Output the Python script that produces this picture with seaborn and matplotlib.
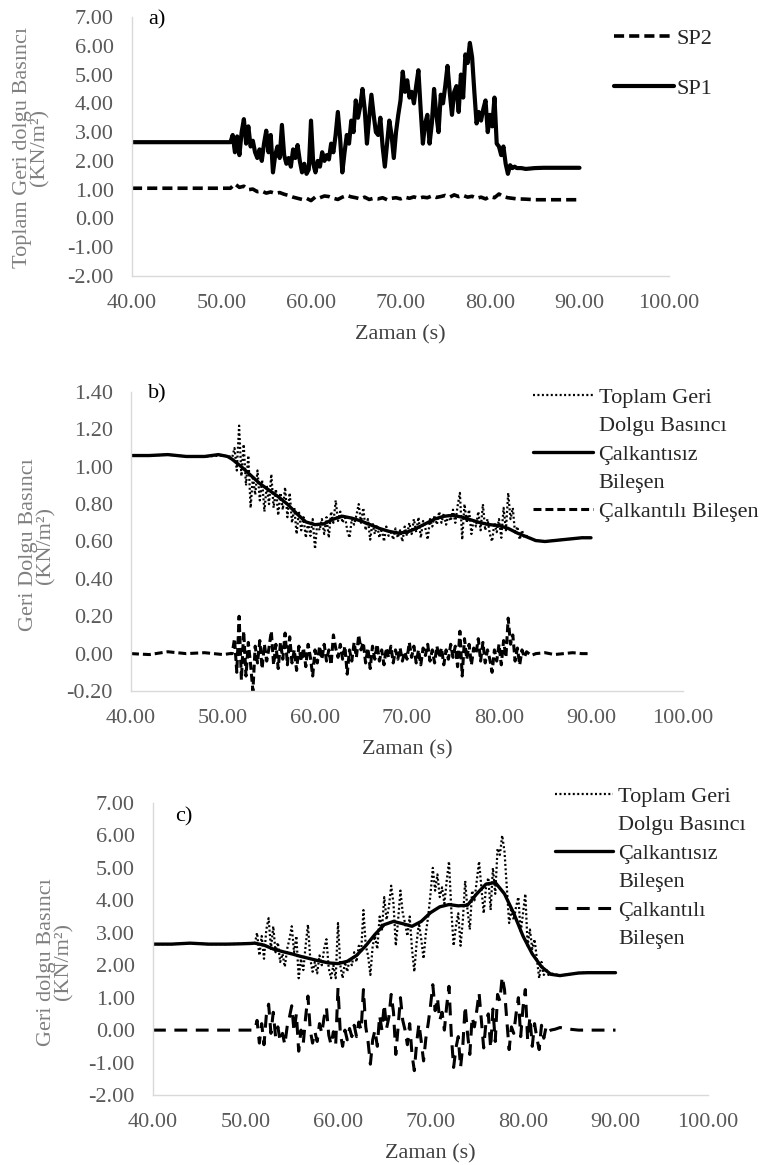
import matplotlib
matplotlib.use("Agg")
import matplotlib.pyplot as plt
import seaborn as sns
import pandas as pd
from matplotlib.lines import Line2D
from matplotlib.ticker import FormatStrFormatter

# ---------------- DATA ----------------
X_TICKS = [40, 50, 60, 70, 80, 90, 100]
Y_TICKS_AC = [-2, -1, 0, 1, 2, 3, 4, 5, 6, 7]
Y_TICKS_B = [-0.2, 0.0, 0.2, 0.4, 0.6, 0.8, 1.0, 1.2, 1.4]

# time stamps (s)
T_PRE = [40.0, 42.0, 44.0, 46.0, 48.0, 50.0, 50.75]
T_MID = [51.0, 51.25, 51.5, 51.75, 52.0, 52.25, 52.5, 52.75,
         53.0, 53.25, 53.5, 53.75, 54.0, 54.25, 54.5, 54.75,
         55.0, 55.25, 55.5, 55.75, 56.0, 56.25, 56.5, 56.75,
         57.0, 57.25, 57.5, 57.75, 58.0, 58.25, 58.5, 58.75,
         59.0, 59.25, 59.5, 59.75, 60.0, 60.25, 60.5, 60.75,
         61.0, 61.25, 61.5, 61.75, 62.0, 62.25, 62.5, 62.75,
         63.0, 63.25, 63.5, 63.75, 64.0, 64.25, 64.5, 64.75,
         65.0, 65.25, 65.5, 65.75, 66.0, 66.25, 66.5, 66.75,
         67.0, 67.25, 67.5, 67.75, 68.0, 68.25, 68.5, 68.75,
         69.0, 69.25, 69.5, 69.75, 70.0, 70.25, 70.5, 70.75,
         71.0, 71.25, 71.5, 71.75, 72.0, 72.25, 72.5, 72.75,
         73.0, 73.25, 73.5, 73.75, 74.0, 74.25, 74.5, 74.75,
         75.0, 75.25, 75.5, 75.75, 76.0, 76.25, 76.5, 76.75,
         77.0, 77.25, 77.5, 77.75, 78.0, 78.25, 78.5, 78.75,
         79.0, 79.25, 79.5, 79.75, 80.0, 80.25, 80.5, 80.75,
         81.0, 81.25, 81.5, 81.75, 82.0, 82.25, 82.5, 82.75,
         83.0]
T_POST = [83.5, 84.0, 85.0, 86.0, 87.0, 88.0, 89.0, 90.0]

T_SP2 = [40.0, 45.0, 50.0, 50.75,
         51.0, 51.5, 52.0, 52.5, 53.0, 53.5, 54.0, 54.5,
         55.0, 55.5, 56.0, 56.5, 57.0, 57.5, 58.0, 58.5,
         59.0, 59.5, 60.0, 60.5, 61.0, 61.5, 62.0, 62.5,
         63.0, 63.5, 64.0, 64.5, 65.0, 65.5, 66.0, 66.5,
         67.0, 67.5, 68.0, 68.5, 69.0, 69.5, 70.0, 70.5,
         71.0, 71.5, 72.0, 72.5, 73.0, 73.5, 74.0, 74.5,
         75.0, 75.5, 76.0, 76.5, 77.0, 77.5, 78.0, 78.5,
         79.0, 79.5, 80.0, 80.5, 81.0, 81.5, 82.0, 82.5,
         83.0, 84.0, 85.0, 86.0, 88.0, 90.0]

T_SMOOTH = [40, 42, 44, 46, 48, 49.5, 50.5, 51, 52, 53, 54, 55, 56, 57, 58, 59,
            60, 61, 62, 63, 64, 65, 66, 67, 68, 69, 70, 71, 72, 73, 74, 75,
            76, 77, 78, 79, 80, 81, 82, 83, 84, 85, 86, 87, 88, 89, 90]

# ---- panel a) ----
SP1 = ([2.65, 2.65, 2.65, 2.65, 2.65, 2.65, 2.65] +
       [2.65, 2.9, 2.3, 2.85, 2.2, 3.0, 3.45, 2.6,
        3.2, 2.5, 2.7, 2.3, 2.1, 2.4, 2.0, 2.6,
        3.05, 2.3, 2.9, 1.6, 2.2, 2.5, 2.1, 3.25,
        2.2, 1.9, 2.1, 1.8, 2.4, 2.1, 2.55, 2.0,
        1.6, 1.9, 1.55, 1.7, 3.4, 1.9, 1.6, 2.0,
        1.8, 2.3, 2.0, 2.2, 2.05, 2.6, 2.3, 2.9,
        3.7, 2.8, 1.6, 2.3, 2.9, 2.6, 3.4, 3.0,
        4.1, 3.5, 3.9, 4.5, 3.8, 2.6, 3.5, 4.3,
        3.6, 3.0, 2.9, 3.5, 2.5, 1.8, 2.6, 3.4,
        2.9, 2.1, 3.0, 3.6, 4.1, 5.1, 4.4, 4.8,
        4.2, 4.4, 4.0, 4.6, 5.15, 3.8, 2.6, 3.3,
        3.6, 2.6, 3.3, 4.5, 3.6, 3.0, 4.3, 4.0,
        4.6, 5.3, 4.4, 3.6, 4.4, 4.6, 3.7, 5.0,
        4.2, 5.7, 5.4, 6.1, 5.6, 4.4, 3.3, 3.7,
        3.4, 3.8, 4.1, 3.0, 3.6, 3.2, 4.2, 2.6,
        2.5, 2.2, 2.5, 1.9, 1.55, 1.85, 1.75, 1.8,
        1.75] +
       [1.75, 1.72, 1.75, 1.76, 1.76, 1.76, 1.76, 1.76])

SP2 = [1.05, 1.05, 1.05, 1.05,
       1.05, 1.2, 1.08, 1.12, 1.0, 1.02, 0.93, 0.95,
       0.88, 0.92, 0.87, 0.9, 0.84, 0.8, 0.74, 0.7,
       0.66, 0.7, 0.62, 0.75, 0.72, 0.78, 0.76, 0.7,
       0.66, 0.74, 0.8, 0.75, 0.72, 0.68, 0.74, 0.66,
       0.7, 0.68, 0.72, 0.65, 0.7, 0.72, 0.68, 0.74,
       0.7, 0.75, 0.7, 0.74, 0.72, 0.78, 0.73, 0.76,
       0.8, 0.74, 0.82, 0.76, 0.8, 0.74, 0.77, 0.7,
       0.74, 0.68, 0.76, 0.72, 0.85, 0.76, 0.72, 0.7,
       0.68, 0.67, 0.65, 0.65, 0.65, 0.65]

# ---- panel b) ----
B_SMOOTH = [1.06, 1.06, 1.065, 1.055, 1.055, 1.065, 1.055, 1.04, 1.0, 0.955, 0.91,
            0.875, 0.84, 0.8, 0.75, 0.705, 0.69, 0.695, 0.72, 0.735, 0.725, 0.71,
            0.69, 0.67, 0.655, 0.645, 0.65, 0.67, 0.695, 0.72, 0.735, 0.74, 0.73,
            0.715, 0.70, 0.69, 0.685, 0.67, 0.645, 0.625, 0.605, 0.60, 0.605, 0.61,
            0.615, 0.62, 0.62]

B_TOTAL = ([1.06, 1.06, 1.065, 1.055, 1.055, 1.06, 1.055] +
           [1.05, 1.10, 0.98, 1.22, 0.95, 1.12, 0.90, 1.06,
            0.78, 0.95, 0.85, 0.98, 0.82, 0.93, 0.76, 0.90,
            0.80, 0.96, 0.78, 0.88, 0.74, 0.86, 0.77, 0.89,
            0.73, 0.86, 0.70, 0.78, 0.64, 0.76, 0.66, 0.73,
            0.62, 0.70, 0.63, 0.72, 0.56, 0.70, 0.66, 0.72,
            0.64, 0.73, 0.62, 0.76, 0.70, 0.82, 0.71, 0.76,
            0.70, 0.74, 0.66, 0.62, 0.72, 0.69, 0.74, 0.80,
            0.70, 0.78, 0.66, 0.72, 0.61, 0.70, 0.64, 0.69,
            0.62, 0.67, 0.60, 0.68, 0.63, 0.66, 0.61, 0.67,
            0.62, 0.66, 0.60, 0.68, 0.63, 0.70, 0.64, 0.72,
            0.65, 0.73, 0.62, 0.71, 0.67, 0.61, 0.72, 0.68,
            0.74, 0.69, 0.76, 0.70, 0.75, 0.69, 0.74, 0.71,
            0.77, 0.70, 0.79, 0.86, 0.61, 0.80, 0.70, 0.77,
            0.64, 0.72, 0.68, 0.76, 0.66, 0.80, 0.66, 0.72,
            0.64, 0.60, 0.70, 0.65, 0.72, 0.62, 0.78, 0.66,
            0.86, 0.72, 0.78, 0.64, 0.68, 0.61, 0.66, 0.62,
            0.63] +
           [0.615, 0.605, 0.60, 0.605, 0.61, 0.615, 0.62, 0.62])

B_TURB = ([0.0, -0.005, 0.01, 0.0, 0.005, -0.005, 0.0] +
          [0.00, 0.08, -0.10, 0.20, -0.14, 0.12, -0.12, 0.06,
           -0.06, -0.20, 0.04, -0.05, 0.07, -0.08, 0.05, -0.04,
           0.03, 0.12, -0.06, 0.05, -0.08, 0.06, -0.03, 0.11,
           -0.06, 0.09, -0.05, 0.02, -0.09, 0.04, -0.04, 0.03,
           -0.07, 0.05, -0.02, -0.12, 0.02, -0.05, 0.04, -0.03,
           0.05, -0.04, 0.02, -0.06, 0.10, 0.03, -0.02, 0.05,
           -0.03, 0.04, -0.11, 0.02, -0.04, 0.06, -0.02, 0.10,
           0.02, 0.06, -0.05, 0.03, -0.08, 0.04, -0.03, 0.05,
           -0.04, 0.02, -0.06, 0.03, -0.02, 0.04, -0.05, 0.02,
           -0.03, 0.03, -0.04, 0.01, -0.03, 0.06, -0.02, 0.04,
           -0.05, 0.02, -0.06, 0.03, -0.01, 0.05, -0.04, 0.02,
           -0.05, 0.04, -0.02, 0.03, -0.06, 0.02, -0.03, 0.05,
           -0.02, 0.04, -0.07, 0.12, -0.12, 0.08, -0.03, 0.05,
           -0.06, 0.03, 0.00, 0.08, -0.04, 0.06, -0.05, 0.02,
           -0.03, -0.10, 0.02, -0.04, 0.05, -0.06, 0.07, -0.02,
           0.19, 0.05, 0.10, -0.04, 0.03, -0.06, 0.02, -0.02,
           0.01] +
          [-0.01, 0.0, 0.005, -0.005, 0.0, 0.005, 0.0, 0.0])

# ---- panel c) ----
C_SMOOTH = [2.65, 2.65, 2.68, 2.65, 2.65, 2.66, 2.67, 2.68, 2.62, 2.5, 2.42, 2.35,
            2.27, 2.2, 2.13, 2.07, 2.05, 2.12, 2.3, 2.6, 2.95, 3.25, 3.35, 3.28,
            3.2, 3.35, 3.62, 3.8, 3.87, 3.83, 3.85, 4.2, 4.5, 4.55, 4.2, 3.6, 2.9,
            2.35, 1.95, 1.72, 1.68, 1.72, 1.76, 1.77, 1.77, 1.77, 1.77]

C_TOTAL = ([2.65, 2.65, 2.68, 2.65, 2.65, 2.66, 2.67] +
           [2.65, 3.0, 2.3, 2.9, 2.2, 3.1, 3.45, 2.5,
            3.2, 2.4, 2.7, 2.1, 2.35, 1.95, 2.5, 2.8,
            3.2, 2.4, 2.9, 1.6, 2.2, 1.85, 2.6, 3.25,
            2.2, 1.8, 2.1, 1.75, 2.3, 2.0, 2.5, 2.8,
            1.9, 1.6, 2.0, 1.6, 3.3, 2.0, 1.6, 2.1,
            1.8, 2.2, 2.0, 2.4, 2.1, 2.6, 2.4, 3.7,
            2.6, 2.3, 1.7, 2.6, 2.9, 2.5, 3.5, 3.1,
            4.1, 3.4, 3.8, 4.45, 3.9, 2.6, 3.4, 4.3,
            3.6, 3.3, 2.9, 3.5, 2.5, 1.8, 2.7, 3.3,
            2.8, 2.2, 3.0, 3.5, 4.2, 5.0, 4.3, 4.8,
            4.1, 4.4, 3.9, 4.6, 5.2, 3.7, 2.6, 3.2,
            3.6, 2.6, 3.4, 4.6, 3.7, 3.1, 4.3, 4.0,
            4.6, 5.2, 4.4, 3.6, 4.4, 4.7, 3.7, 5.0,
            4.2, 5.6, 5.4, 6.0, 5.5, 4.4, 3.3, 3.7,
            3.4, 3.8, 4.1, 3.0, 3.6, 4.2, 2.6, 3.1,
            2.5, 2.8, 2.2, 1.6, 2.1, 1.7, 1.9, 1.7,
            1.75] +
           [1.72, 1.68, 1.72, 1.76, 1.77, 1.77, 1.77, 1.77])

C_TURB = ([0.0, 0.0, 0.0, 0.0, 0.0, 0.0, 0.0] +
          [0.0, 0.3, -0.4, 0.2, -0.45, 0.45, 0.8, -0.1,
           0.55, -0.2, 0.1, -0.35, -0.1, -0.45, 0.1, 0.4,
           0.75, -0.05, 0.5, -0.65, 0.0, -0.4, 0.4, 1.05,
           0.0, -0.4, -0.05, -0.35, 0.2, -0.1, 0.4, 0.7,
           -0.15, -0.45, -0.05, -0.45, 1.3, -0.1, -0.5, 0.0,
           -0.3, 0.05, -0.2, 0.15, -0.2, 0.25, 0.0, 1.25,
           0.1, -0.35, -1.05, -0.3, 0.0, -0.5, 0.45, 0.0,
           0.8, 0.05, 0.4, 1.1, 0.55, -0.75, 0.1, 1.0,
           0.3, 0.0, -0.45, 0.2, -0.75, -1.25, -0.4, 0.2,
           -0.35, -0.95, -0.25, 0.2, 0.75, 1.4, 0.6, 1.0,
           0.3, 0.55, 0.0, 0.75, 1.35, -0.15, -1.15, -0.55,
           -0.2, -1.15, -0.45, 0.75, -0.1, -0.75, 0.4, 0.1,
           0.6, 1.15, 0.3, -0.55, 0.25, 0.5, -0.55, 0.65,
           -0.35, 1.1, 0.9, 1.65, 1.25, 0.3, -0.6, 0.1,
           -0.1, 0.5, 1.0, -0.2, 0.7, 1.25, -0.3, 0.4,
           -0.5, 0.2, -0.25, -0.6, 0.15, -0.25, 0.1, -0.05,
           0.0] +
          [0.03, 0.08, 0.03, 0.0, 0.0, 0.0, 0.0, 0.0])

T_FULL = T_PRE + T_MID + T_POST

# ---------------- STYLE ----------------
sns.set_theme(style="white")
plt.rcParams["font.family"] = ["Liberation Serif", "DejaVu Serif"]
plt.rcParams["axes.unicode_minus"] = False

W, H = 762, 1165
FS = 16
TICK_C = "#595959"
LABEL_C = "#808080"
XLAB_C = "#404040"
SPINE_C = "#d9d9d9"

fig = plt.figure(figsize=(W / 100, H / 100), dpi=100)


def px_axes(l, t, r, b):
    return fig.add_axes([l / W, 1 - b / H, (r - l) / W, (b - t) / H])


def style(ax, ylim, yticks):
    ax.set_xlim(40, 100)
    ax.set_ylim(*ylim)
    ax.set_xticks(X_TICKS)
    ax.set_yticks(yticks)
    ax.xaxis.set_major_formatter(FormatStrFormatter("%.2f"))
    ax.yaxis.set_major_formatter(FormatStrFormatter("%.2f"))
    for s in ["top", "right"]:
        ax.spines[s].set_visible(False)
    for s in ["left", "bottom"]:
        ax.spines[s].set_color(SPINE_C)
        ax.spines[s].set_linewidth(1.0)
    ax.tick_params(axis="both", length=0, labelsize=FS, colors=TICK_C)
    ax.tick_params(axis="y", pad=13)
    ax.tick_params(axis="x", pad=13)
    ax.set_xlabel("Zaman (s)", fontsize=FS, color=XLAB_C, labelpad=9)
    ax.set_ylabel("")


def line(ax, x, y, **kw):
    sns.lineplot(x=x, y=y, ax=ax, color="black", estimator=None, sort=False,
                 errorbar=None, legend=False, **kw)


DOT = (0, (0.9, 1.1))
blank = Line2D([], [], linestyle="none")

# ---- panel a ----
ax_a = px_axes(132, 17, 669, 276)
line(ax_a, T_FULL, SP1, lw=3.0, linestyle="-")
line(ax_a, T_SP2, SP2, lw=2.6, linestyle=(0, (2.8, 1.4)))
style(ax_a, (-2, 7), Y_TICKS_AC)
h_sp2 = Line2D([], [], color="black", lw=2.6, linestyle=(0, (2.8, 1.4)))
h_sp1 = Line2D([], [], color="black", lw=3.0, linestyle="-")
ax_a.legend([h_sp2, h_sp1], ["SP2", "SP1"], loc="upper left",
            bbox_to_anchor=(614 / W, 1 - 28 / H), bbox_transform=fig.transFigure,
            frameon=False, fontsize=FS, handlelength=2.7, handletextpad=0.1,
            labelspacing=1.33, borderpad=0, borderaxespad=0, labelcolor="#262626")
fig.text(148 / W, 1 - 20 / H, "a)", fontsize=FS, color="black", va="center")
fig.text(31 / W, 1 - 147 / H, "Toplam Geri dolgu Basıncı\n(KN/m²)", rotation=90,
         ha="center", va="center", multialignment="center", linespacing=0.85,
         fontsize=FS, color=LABEL_C)

# ---- panel b ----
ax_b = px_axes(131, 392, 683, 691)
line(ax_b, T_FULL, B_TOTAL, lw=1.6, linestyle=DOT)
line(ax_b, T_SMOOTH, B_SMOOTH, lw=2.4, linestyle="-")
line(ax_b, T_FULL, B_TURB, lw=2.2, linestyle=(0, (2.6, 1.3)))
style(ax_b, (-0.2, 1.4), Y_TICKS_B)
hb_tot = Line2D([], [], color="black", lw=1.6, linestyle=DOT)
hb_sm = Line2D([], [], color="black", lw=2.4, linestyle="-")
hb_tu = Line2D([], [], color="black", lw=2.2, linestyle=(0, (2.6, 1.3)))
ax_b.legend([hb_tot, blank, hb_sm, blank, hb_tu],
            ["Toplam Geri", "Dolgu Basıncı", "Çalkantısız", "Bileşen", "Çalkantılı Bileşen"],
            loc="upper left", bbox_to_anchor=(533 / W, 1 - 387 / H),
            bbox_transform=fig.transFigure, frameon=False, fontsize=FS,
            handlelength=2.7, handletextpad=0.25, labelspacing=0.36, borderpad=0,
            borderaxespad=0, labelcolor="#262626")
fig.text(148 / W, 1 - 394 / H, "b)", fontsize=FS, color="black", va="center")
fig.text(37 / W, 1 - 545 / H, "Geri Dolgu Basıncı\n(KN/m²)", rotation=90,
         ha="center", va="center", multialignment="center", linespacing=0.85,
         fontsize=FS, color=LABEL_C)

# ---- panel c ----
ax_c = px_axes(153, 803, 708, 1095)
line(ax_c, T_FULL, C_TOTAL, lw=1.6, linestyle=DOT)
line(ax_c, T_SMOOTH, C_SMOOTH, lw=2.4, linestyle="-")
line(ax_c, T_FULL, C_TURB, lw=2.2, linestyle=(0, (4.2, 2.8)))
style(ax_c, (-2, 7), Y_TICKS_AC)
hc_tot = Line2D([], [], color="black", lw=1.6, linestyle=DOT)
hc_sm = Line2D([], [], color="black", lw=2.4, linestyle="-")
hc_tu = Line2D([], [], color="black", lw=2.2, linestyle=(0, (4.2, 2.8)))
ax_c.legend([hc_tot, blank, hc_sm, blank, hc_tu, blank],
            ["Toplam Geri", "Dolgu Basıncı", "Çalkantısız", "Bileşen", "Çalkantılı", "Bileşen"],
            loc="upper left", bbox_to_anchor=(555 / W, 1 - 786 / H),
            bbox_transform=fig.transFigure, frameon=False, fontsize=FS,
            handlelength=2.6, handletextpad=0.25, labelspacing=0.36, borderpad=0,
            borderaxespad=0, labelcolor="#262626")
fig.text(175 / W, 1 - 817 / H, "c)", fontsize=FS, color="black", va="center")
fig.text(55 / W, 1 - 962 / H, "Geri dolgu Basıncı\n(KN/m²)", rotation=90,
         ha="center", va="center", multialignment="center", linespacing=0.85,
         fontsize=FS, color=LABEL_C)

fig.savefig("out.png", dpi=100)
